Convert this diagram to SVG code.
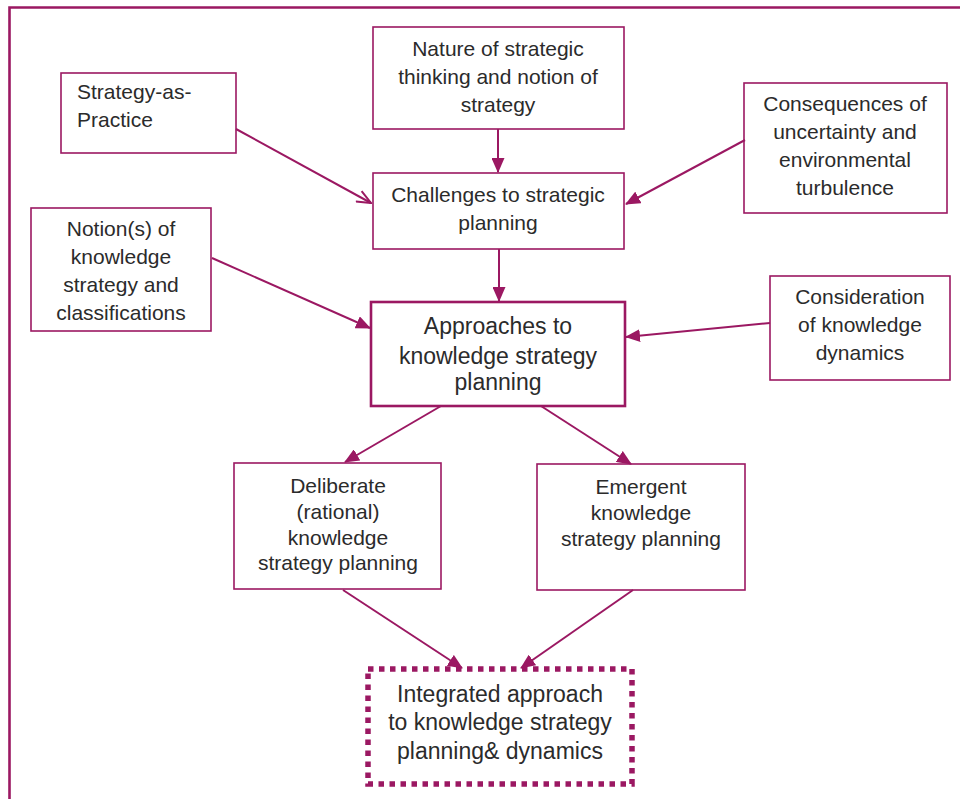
<svg xmlns="http://www.w3.org/2000/svg" width="960" height="799" viewBox="0 0 960 799">
  <style>
    .box { fill: #ffffff; stroke: #9b1862; stroke-width: 1.6; }
    .main { stroke-width: 2.6; }
    .dotted { fill: #ffffff; stroke: #9b1862; stroke-width: 5.5; stroke-dasharray: 5.5 5.5; }
    .lbl { font-family: "Liberation Sans", Arial, sans-serif; font-size: 21px; fill: #2b2b2b; text-anchor: middle; }
    .big { font-size: 23px; }
    .left { text-anchor: start; }
    .conn line { stroke: #9b1862; stroke-width: 2; fill: none; }
  </style>
  <defs>
    <marker id="tri" viewBox="0 0 15 13" refX="14" refY="6.5" markerWidth="15" markerHeight="13" markerUnits="userSpaceOnUse" orient="auto">
      <path d="M0,0 L15,6.5 L0,13 Z" fill="#9b1862"/>
    </marker>
    <marker id="vee" viewBox="0 0 16 14" refX="15" refY="7" markerWidth="16" markerHeight="14" markerUnits="userSpaceOnUse" orient="auto">
      <path d="M1,1 L15,7 L1,13" fill="none" stroke="#9b1862" stroke-width="2"/>
    </marker>
  </defs>

  <rect width="960" height="799" fill="#ffffff"/>
  <!-- outer frame -->
  <path d="M9.5,799 L9.5,7.5 L960,7.5" fill="none" stroke="#9b1862" stroke-width="2.6"/>

  <g id="nature">
    <rect class="box" x="373" y="27" width="251" height="102"/>
    <text class="lbl" x="498" y="56">Nature of strategic</text>
    <text class="lbl" x="498" y="84">thinking and notion of</text>
    <text class="lbl" x="498" y="112">strategy</text>
  </g>

  <g id="practice">
    <rect class="box" x="61" y="73" width="175" height="80"/>
    <text class="lbl left" x="77" y="99">Strategy-as-</text>
    <text class="lbl left" x="77" y="127">Practice</text>
  </g>

  <g id="consequences">
    <rect class="box" x="744" y="83" width="203" height="130"/>
    <text class="lbl" x="845" y="111">Consequences of</text>
    <text class="lbl" x="845" y="139">uncertainty and</text>
    <text class="lbl" x="845" y="167">environmental</text>
    <text class="lbl" x="845" y="195">turbulence</text>
  </g>

  <g id="challenges">
    <rect class="box" x="373" y="173" width="251" height="76"/>
    <text class="lbl" x="498" y="202">Challenges to strategic</text>
    <text class="lbl" x="498" y="230">planning</text>
  </g>

  <g id="notions">
    <rect class="box" x="31" y="208" width="180" height="123"/>
    <text class="lbl" x="121" y="236">Notion(s) of</text>
    <text class="lbl" x="121" y="264">knowledge</text>
    <text class="lbl" x="121" y="292">strategy and</text>
    <text class="lbl" x="121" y="320">classifications</text>
  </g>

  <g id="dynamics">
    <rect class="box" x="770" y="276" width="180" height="104"/>
    <text class="lbl" x="860" y="304">Consideration</text>
    <text class="lbl" x="860" y="332">of knowledge</text>
    <text class="lbl" x="860" y="360">dynamics</text>
  </g>

  <g id="approaches">
    <rect class="box main" x="371" y="302" width="254" height="104"/>
    <text class="lbl big" x="498" y="334">Approaches to</text>
    <text class="lbl big" x="498" y="364">knowledge strategy</text>
    <text class="lbl big" x="498" y="390">planning</text>
  </g>

  <g id="deliberate">
    <rect class="box" x="234" y="463" width="207" height="126"/>
    <text class="lbl" x="338" y="493">Deliberate</text>
    <text class="lbl" x="338" y="519">(rational)</text>
    <text class="lbl" x="338" y="545">knowledge</text>
    <text class="lbl" x="338" y="570">strategy planning</text>
  </g>

  <g id="emergent">
    <rect class="box" x="537" y="464" width="208" height="126"/>
    <text class="lbl" x="641" y="494">Emergent</text>
    <text class="lbl" x="641" y="520">knowledge</text>
    <text class="lbl" x="641" y="546">strategy planning</text>
  </g>

  <g id="integrated">
    <rect class="dotted" x="368" y="669" width="264" height="115"/>
    <text class="lbl big" x="500" y="702">Integrated approach</text>
    <text class="lbl big" x="500" y="730">to knowledge strategy</text>
    <text class="lbl big" x="500" y="759">planning&amp; dynamics</text>
  </g>

  <g id="connectors" class="conn">
    <line x1="498" y1="129" x2="498" y2="172" marker-end="url(#tri)"/>
    <line x1="236" y1="129" x2="371" y2="203" marker-end="url(#vee)"/>
    <line x1="745" y1="140" x2="626" y2="204" marker-end="url(#tri)"/>
    <line x1="499" y1="249" x2="499" y2="301" marker-end="url(#tri)"/>
    <line x1="212" y1="258" x2="370" y2="328" marker-end="url(#tri)"/>
    <line x1="770" y1="323" x2="626" y2="337" marker-end="url(#tri)"/>
    <line x1="441" y1="406" x2="345" y2="462" marker-end="url(#tri)"/>
    <line x1="541" y1="406" x2="631" y2="464" marker-end="url(#tri)"/>
    <line x1="343" y1="590" x2="462" y2="668" marker-end="url(#tri)"/>
    <line x1="633" y1="590" x2="521" y2="668" marker-end="url(#tri)"/>
  </g>
</svg>
